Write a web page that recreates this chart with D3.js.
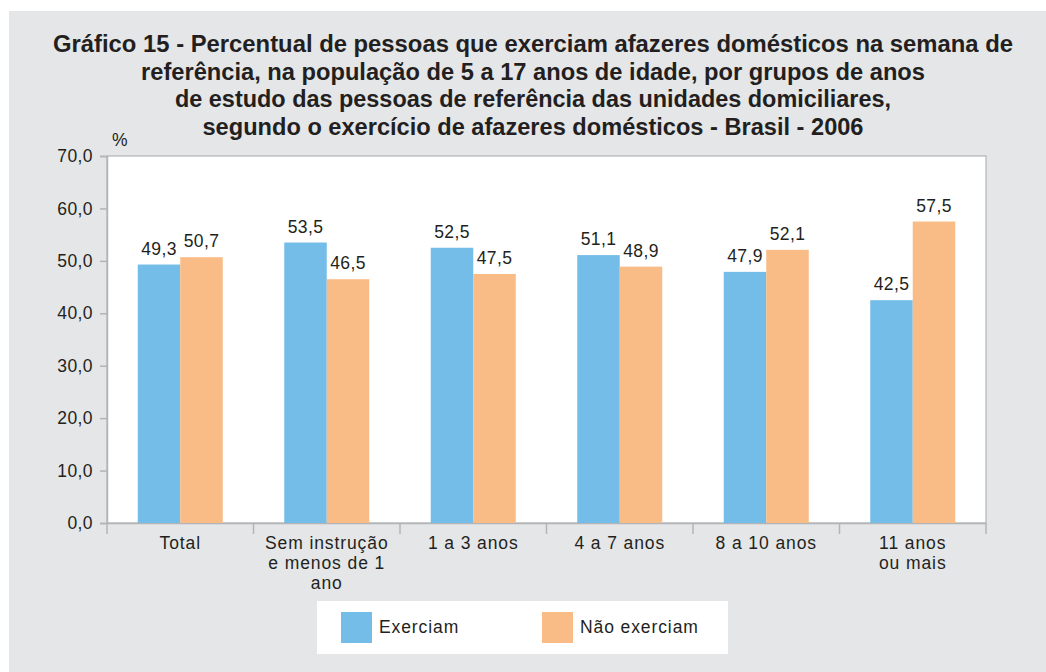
<!DOCTYPE html>
<html><head><meta charset="utf-8">
<script src="https://cdn.jsdelivr.net/npm/d3@7"></script>
<style>
html,body{margin:0;padding:0;background:#fff;}
svg{display:block;}
text{font-family:"Liberation Sans",Arial,Helvetica,sans-serif;fill:#231f20;}
</style></head>
<body>
<svg id="chart" width="1046" height="672"></svg>
<script>
const titleLines = [
  "Gráfico 15 - Percentual de pessoas que exerciam afazeres domésticos na semana de",
  "referência, na população de 5 a 17 anos de idade, por grupos de anos",
  "de estudo das pessoas de referência das unidades domiciliares,",
  "segundo o exercício de afazeres domésticos - Brasil - 2006"
];
const categories = [
  ["Total"],
  ["Sem instrução", "e menos de 1", "ano"],
  ["1 a 3 anos"],
  ["4 a 7 anos"],
  ["8 a 10 anos"],
  ["11 anos", "ou mais"]
];
const seriesNames = ["Exerciam", "Não exerciam"];
const exerciam = [49.3, 53.5, 52.5, 51.1, 47.9, 42.5];
const naoExerciam = [50.7, 46.5, 47.5, 48.9, 52.1, 57.5];
const yTicks = [0, 10, 20, 30, 40, 50, 60, 70];
const colors = ["#74bde8", "#f9bc86"];

(function () {
const svg = d3.select("#chart");
const fmt = v => v.toFixed(1).replace(".", ",");

// background panel
svg.append("rect").attr("x", 9).attr("y", 11).attr("width", 1046 - 9).attr("height", 672 - 11).attr("fill", "#e5e6e8");

// title
const titleWidths = [960, 784, 716, 661];
const titleBase = [52, 79.5, 107, 134.5];
titleLines.forEach((t, i) => {
  svg.append("text").attr("x", 533).attr("y", titleBase[i])
    .attr("text-anchor", "middle").attr("font-size", 23.5).attr("font-weight", "bold")
    .attr("textLength", titleWidths[i]).attr("lengthAdjust", "spacingAndGlyphs")
    .text(t);
});

const pL = 107, pR = 986, pT = 156, pB = 523;
const x = d3.scaleBand().domain(d3.range(categories.length)).range([pL, pR]).paddingInner(0).paddingOuter(0);
const y = d3.scaleLinear().domain([0, 70]).range([pB, pT]);
const groupW = 85;
const x1 = d3.scaleBand().domain([0, 1]).range([0, groupW]);

// plot area
svg.append("rect").attr("x", pL).attr("y", pT).attr("width", pR - pL).attr("height", pB - pT)
  .attr("fill", "#fff").attr("stroke", "#b3b4b6").attr("stroke-width", 1.2);

// y axis
const yAxis = svg.append("g").attr("transform", `translate(${pL},0)`)
  .call(d3.axisLeft(y).tickValues(yTicks).tickFormat(fmt).tickSize(7).tickPadding(7));
yAxis.select(".domain").attr("stroke", "#b3b4b6").attr("stroke-width", 1.5);
yAxis.selectAll(".tick line").attr("stroke", "#b3b4b6").attr("stroke-width", 1.5);
yAxis.selectAll(".tick text").attr("font-size", 17.5).attr("fill", "#231f20")
  .attr("letter-spacing", 0.4)
  .style("font-family", '"Liberation Sans",Arial,sans-serif');

// x axis
const xAxis = svg.append("g").attr("transform", `translate(0,${pB})`)
  .call(d3.axisBottom(x).tickValues([]).tickSizeOuter(0));
xAxis.select(".domain").attr("stroke", "#b3b4b6").attr("stroke-width", 1.5);
const bounds = d3.range(categories.length + 1).map(i => i < categories.length ? x(i) : x(categories.length - 1) + x.bandwidth());
svg.append("g").selectAll("line").data(bounds).join("line")
  .attr("x1", d => d).attr("x2", d => d).attr("y1", pB).attr("y2", pB + 11)
  .attr("stroke", "#b3b4b6").attr("stroke-width", 1.5);

// category labels
categories.forEach((lines, i) => {
  const cx = x(i) + x.bandwidth() / 2;
  lines.forEach((l, j) => {
    svg.append("text").attr("x", cx).attr("y", 549 + j * 20).attr("text-anchor", "middle")
      .attr("font-size", 17.5).attr("letter-spacing", 0.9).text(l);
  });
});

// bars
const series = [exerciam, naoExerciam];
series.forEach((vals, s) => {
  const g = svg.append("g");
  g.selectAll("rect").data(vals).join("rect")
    .attr("x", (d, i) => x(i) + (x.bandwidth() - groupW) / 2 + x1(s))
    .attr("width", x1.bandwidth())
    .attr("y", d => y(d))
    .attr("height", d => y(0) - y(d))
    .attr("fill", colors[s]);
  g.selectAll("text").data(vals).join("text")
    .attr("x", (d, i) => x(i) + (x.bandwidth() - groupW) / 2 + x1(s) + x1.bandwidth() / 2)
    .attr("y", d => y(d) - 10)
    .attr("text-anchor", "middle").attr("font-size", 17.5).attr("letter-spacing", 0.4)
    .text(fmt);
});

// % label
svg.append("text").attr("x", 112).attr("y", 146).attr("font-size", 17.5).text("%");

// legend
svg.append("rect").attr("x", 317).attr("y", 601).attr("width", 411).attr("height", 53).attr("fill", "#fff");
const legX = [341, 542];
seriesNames.forEach((n, i) => {
  svg.append("rect").attr("x", legX[i]).attr("y", 612).attr("width", 31).attr("height", 31).attr("fill", colors[i]);
  svg.append("text").attr("x", legX[i] + 38).attr("y", 633).attr("font-size", 17.5).attr("letter-spacing", 0.9).text(n);
});
})();
</script>
</body></html>
